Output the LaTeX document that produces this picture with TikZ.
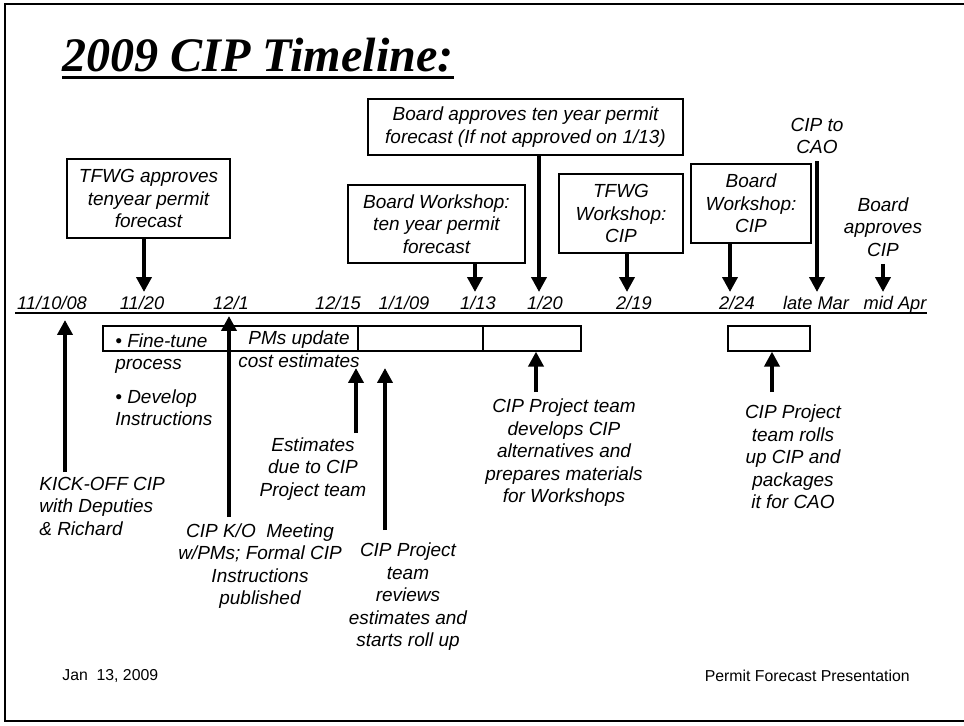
\documentclass[tikz,border=0pt]{standalone}
\usepackage{fontspec}
\setmainfont{Liberation Sans}
\newfontfamily\titlefont{Liberation Serif}
\usetikzlibrary{arrows.meta,positioning}

\begin{document}
\begin{tikzpicture}[x=0.02cm,y=-0.02cm,
  lbl/.style={font=\fontsize{10.8}{12.8}\selectfont\itshape,align=center,inner sep=0pt},
  evbox/.style={lbl,draw,line width=0.7pt},
  bar/.style={draw,line width=0.7pt,inner sep=0pt,minimum height=0.5cm},
  datelbl/.style={font=\fontsize{10.4}{12}\selectfont\itshape,anchor=base,inner sep=0pt},
  bigarrow/.style={line width=2.5pt,-{Triangle[width=8.5pt,length=8.5pt]}}]
  \useasboundingbox (0,0) rectangle (964,726);
  % slide frame (right side cut off)
  \draw[line width=1pt] (964,4) -- (5,4) -- (5,721) -- (964,721);
  % title
  \node[font=\titlefont\fontsize{27.4}{32}\selectfont\bfseries\itshape,anchor=base west,inner sep=0pt] (title) at (62,72) {2009 CIP Timeline:};
  \draw[line width=1.7pt] ([yshift=-3.4pt]title.base west) -- ([yshift=-3.4pt]title.base east);
  % time axis and dates
  \draw[line width=0.9pt] (15,313) -- (927,313);
  \foreach \xx/\txt [count=\i] in {52/{11/10/08},142/{11/20},231/{12/1},338/{12/15},404/{1/1/09},
      478/{1/13},545/{1/20},634/{2/19},737/{2/24},816/{late Mar},895/{mid Apr}} {
    \node[datelbl] (d\i) at (\xx,310) {\txt};
  }
  % boxes above the axis
  \node[evbox,minimum width=3.26cm,minimum height=1.58cm] (tfwg) at (148.5,198.5) {TFWG approves\\tenyear permit\\forecast};
  \node[evbox,minimum width=6.3cm,minimum height=1.12cm] (brdok) at (525.5,127) {Board approves ten year permit\\forecast (If not approved on 1/13)};
  \node[evbox,minimum width=3.54cm,minimum height=1.56cm] (brdws) at (436.5,224) {Board Workshop:\\ten year permit\\forecast};
  \node[evbox,minimum width=2.48cm,minimum height=1.58cm] (tfwgws) at (621,213.5) {TFWG\\Workshop:\\CIP};
  \node[evbox,minimum width=2.4cm,minimum height=1.58cm] (brdcip) at (751,203.5) {Board\\Workshop:\\CIP};
  \node[lbl] (cipcao) at (817,136) {CIP to\\CAO};
  \node[lbl] (brdapp) at (883,227) {Board\\approves\\CIP};
  % arrows down to the axis
  \coordinate (t1) at (144,292);
  \coordinate (t2) at (539,292);
  \coordinate (t3) at (475,292);
  \coordinate (t4) at (627,292);
  \coordinate (t5) at (730,292);
  \coordinate (t6) at (817,292);
  \coordinate (t7) at (883,292);
  \draw[bigarrow] (tfwg.south -| t1) -- (t1);
  \draw[bigarrow] (brdok.south -| t2) -- (t2);
  \draw[bigarrow] (brdws.south -| t3) -- (t3);
  \draw[bigarrow] (tfwgws.south -| t4) -- (t4);
  \draw[bigarrow] (brdcip.south -| t5) -- (t5);
  \draw[bigarrow] ([yshift=-4pt]cipcao.south) -- (t6);
  \draw[bigarrow] ([yshift=-4pt]brdapp.south -| t7) -- (t7);
  % bars below the axis
  \foreach \nm/\xa/\xb in {barA/103/230,barB/230/358,barC/358/483,barD/483/581,barE/728/810} {
    \node[bar,minimum width={(\xb-\xa)*0.02cm}] (\nm) at ({(\xa+\xb)/2},338.5) {};
  }
  % texts below the axis
  \node[lbl,align=left,anchor=north west] (fine) at (115,333) {• Fine-tune\\process};
  \node[lbl,align=left,anchor=north west] (devel) at (115,389) {• Develop\\Instructions};
  \node[lbl] (pmsupd) at (299,349) {PMs update\\cost estimates};
  \node[lbl,align=left,anchor=west] (kickoff) at (39,506) {KICK-OFF CIP\\with Deputies\\\& Richard};
  \node[lbl] (estdue) at (313,469) {Estimates\\due to CIP\\Project team};
  \node[lbl] (komeet) at (260,566) {CIP K/O~ Meeting\\w/PMs; Formal CIP\\Instructions\\published};
  \node[lbl] (review) at (408,597) {CIP Project\\team\\reviews\\estimates and\\starts roll up};
  \node[lbl] (devalt) at (564,453) {CIP Project team\\develops CIP\\alternatives and\\prepares materials\\for Workshops};
  \node[lbl] (rollup) at (793,457) {CIP Project\\team rolls\\up CIP and\\packages\\it for CAO};
  % arrows up
  \coordinate (k1) at (65,320);
  \coordinate (k2) at (229,316);
  \coordinate (k3) at (356,368);
  \coordinate (k4) at (385,368);
  \draw[bigarrow] (65,472) -- (k1);
  \draw[bigarrow] (229,517) -- (k2);
  \draw[bigarrow] (356,433) -- (k3);
  \draw[bigarrow] (385,530) -- (k4);
  \draw[bigarrow] (536,392) -- (barD.south -| 536,0);
  \draw[bigarrow] (772,392) -- (barE.south -| 772,0);
  % footer
  \node[font=\fontsize{9}{11}\selectfont,anchor=west,inner sep=0pt] (fdate) at (62,676) {Jan~ 13, 2009};
  \node[font=\fontsize{9}{11}\selectfont,anchor=east,inner sep=0pt] (ftitle) at (910,676) {Permit Forecast Presentation};
\end{tikzpicture}
\end{document}
